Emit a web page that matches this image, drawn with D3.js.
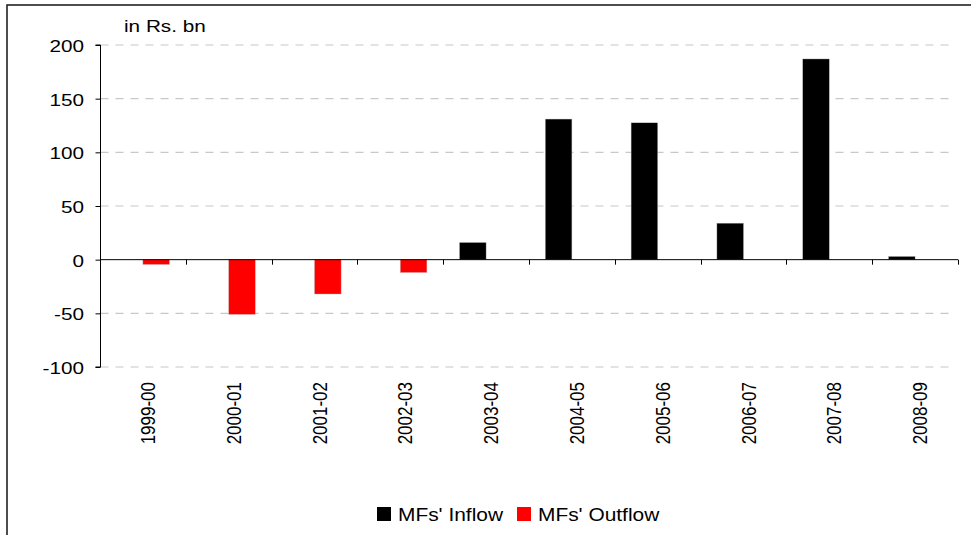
<!DOCTYPE html>
<html>
<head>
<meta charset="utf-8">
<script src="https://cdn.jsdelivr.net/npm/d3@7"></script>
<style>
  html, body { margin: 0; padding: 0; background: #fff; }
  svg { display: block; font-family: "Liberation Sans", Arial, sans-serif; }
</style>
</head>
<body>
<svg id="chart" width="971" height="535"></svg>
<script>
const categories = ["1999-00","2000-01","2001-02","2002-03","2003-04","2004-05","2005-06","2006-07","2007-08","2008-09"];
const inflow  = [null, null, null, null, 16, 131, 127.5, 34, 187, 3];
const outflow = [-4.5, -51, -32, -12, null, null, null, null, null, null];
const seriesNames = ["MFs' Inflow", "MFs' Outflow"];
const seriesColors = ["#000000", "#ff0000"];
const yTicks = [-100, -50, 0, 50, 100, 150, 200];
const unitLabel = "in Rs. bn";

(function () {
const svg = d3.select("#chart");
const SX = 1.22; // horizontal text stretch seen in reference
const fs = 17;

// outer border (right and bottom fall outside the picture)
svg.append("rect").attr("x", 7).attr("y", 5).attr("width", 1000).attr("height", 600)
  .attr("fill", "none").attr("stroke", "#222").attr("stroke-width", 1.6);

const pLeft = 100.5, pRight = 958, pTop = 45, pBottom = 367;
const y = d3.scaleLinear().domain([-100, 200]).range([pBottom, pTop]);
const x0 = d3.scaleBand().domain(categories).range([100, pRight]).padding(0);
const bw = x0.bandwidth();
const x1 = d3.scaleBand().domain(seriesNames).range([bw * 0.19, bw * 0.81]).padding(0);

// gridlines
svg.append("g").selectAll("line").data(yTicks.filter(t => t !== 0)).join("line")
  .attr("x1", pLeft).attr("x2", 955)
  .attr("y1", d => y(d)).attr("y2", d => y(d))
  .attr("stroke", "#c8c8c8").attr("stroke-width", 1.2).attr("stroke-dasharray", "8,7");

// bars
const seriesData = [inflow, outflow];
seriesData.forEach((vals, si) => {
  const rows = categories.map((c, i) => ({ c, v: vals[i] })).filter(d => d.v !== null);
  svg.append("g").selectAll("rect").data(rows).join("rect")
    .attr("x", d => x0(d.c) + x1(seriesNames[si]))
    .attr("width", x1.bandwidth())
    .attr("y", d => y(Math.max(0, d.v)))
    .attr("height", d => Math.abs(y(d.v) - y(0)))
    .attr("fill", seriesColors[si])
    .attr("stroke", "#bbb").attr("stroke-width", 0.4);
});

// y axis
const yAxis = d3.axisLeft(y).tickValues(yTicks).tickSize(5).tickFormat(d => String(d));
const gy = svg.append("g").attr("transform", `translate(${pLeft},0)`).call(yAxis);
gy.select(".domain").attr("stroke", "#000").attr("d", `M-5,${pTop}H0V${pBottom}H-5`);
gy.selectAll(".tick line").attr("stroke", "#000");
gy.selectAll(".tick text").remove();
svg.append("g").selectAll("text").data(yTicks).join("text")
  .attr("transform", d => `translate(84,${y(d) + 7}) scale(${SX},1)`)
  .attr("text-anchor", "end").attr("font-size", fs).attr("fill", "#000")
  .text(d => String(d));

// x axis at zero
const xAxis = d3.axisBottom(x0).tickSize(0).tickFormat("");
const gx = svg.append("g").attr("transform", `translate(0,${y(0)})`).call(xAxis);
gx.select(".domain").attr("stroke", "#000").attr("d", `M${pLeft},0H${pRight}`);
gx.selectAll(".tick").remove();
svg.append("g").selectAll("line").data(categories).join("line")
  .attr("x1", d => Math.round(x0(d) + bw) + 0.5).attr("x2", d => Math.round(x0(d) + bw) + 0.5)
  .attr("y1", y(0)).attr("y2", y(0) + 5).attr("stroke", "#000");

// category labels (rotated)
svg.append("g").selectAll("text").data(categories).join("text")
  .attr("transform", d => `translate(${x0(d) + bw / 2 + 12},382) scale(${SX},1) rotate(-90)`)
  .attr("text-anchor", "end").attr("font-size", fs).attr("fill", "#000")
  .text(d => d);

// unit label
svg.append("text").attr("transform", `translate(124,32) scale(${SX},1)`)
  .attr("font-size", fs).attr("fill", "#000").text(unitLabel);

// legend
const legendItems = [
  { name: seriesNames[0], color: seriesColors[0], sx: 377, tx: 398 },
  { name: seriesNames[1], color: seriesColors[1], sx: 517, tx: 538 }
];
const lg = svg.append("g");
lg.selectAll("rect").data(legendItems).join("rect")
  .attr("x", d => d.sx).attr("y", 507).attr("width", 14).attr("height", 14)
  .attr("fill", d => d.color);
lg.selectAll("text").data(legendItems).join("text")
  .attr("transform", d => `translate(${d.tx},520.5) scale(1.1,1)`)
  .attr("font-size", 19).attr("fill", "#000").text(d => d.name);
})();
</script>
</body>
</html>
